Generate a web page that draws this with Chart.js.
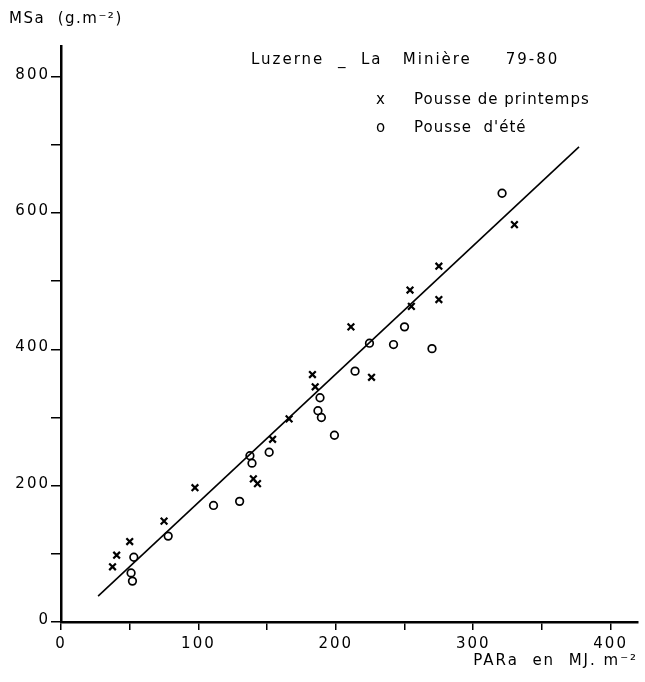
<!DOCTYPE html>
<html lang="fr">
<head>
<meta charset="UTF-8">
<title>Luzerne - La Minière 79-80</title>
<script src="https://cdn.jsdelivr.net/npm/chart.js"></script>
<style>
  html, body { margin: 0; padding: 0; background: #fff; }
  #wrap { width: 645px; height: 682px; }
</style>
</head>
<body>
<div id="wrap"><canvas id="chart" width="645" height="682"></canvas></div>
<script>
// Pousse de printemps (x) : PARa (MJ.m-2) / MSa (g.m-2)
const springPAR = [37.5, 40.5, 50, 75, 97.5, 140, 143, 154, 166, 183, 185, 211, 226, 254, 255, 275, 275, 330];
const springMS  = [81, 98, 118, 148, 197, 210, 203, 268, 298, 363, 345, 433, 359, 487, 463, 522, 473, 583];

// Pousse d'été (o)
const summerPAR = [51, 52, 53, 78, 111, 130, 137.5, 139, 151.5, 188.5, 187, 189.5, 199, 214, 224.5, 242, 250, 270, 321];
const summerMS  = [72, 60, 95, 126, 171, 177, 244, 233, 249, 329, 310, 300, 274, 368, 409, 407, 433, 401, 629];

// droite d'ajustement
const fitPAR = [27, 377];
const fitMS  = [38, 697];

const xTickLabels = [0, 100, 200, 300, 400];
const yTickLabels = [0, 200, 400, 600, 800];

const FONT = '"DejaVu Sans", "Liberation Sans", Arial, sans-serif';

function pts(xs, ys) {
  return xs.map((x, i) => ({ x: x, y: ys[i] }));
}

// letter spacing + free text (axis unit, title, legend)
const textPlugin = {
  id: 'texts',
  beforeLayout(chart) { chart.ctx.letterSpacing = '2px'; },
  beforeDraw(chart) { chart.ctx.letterSpacing = '2px'; },
  afterDraw(chart) {
    const ctx = chart.ctx;
    ctx.save();
    ctx.fillStyle = '#000';
    ctx.font = '15px ' + FONT;
    ctx.textBaseline = 'middle';
    ctx.textAlign = 'left';
    ctx.letterSpacing = '1.5px';
    ctx.fillText('MSa  (g.m⁻²)', 9, 19);
    ctx.letterSpacing = '2px';
    ctx.fillText('Luzerne  _  La   Minière     79-80', 251, 60);
    ctx.letterSpacing = '1px';
    ctx.fillText('x', 376, 100);
    ctx.fillText('Pousse de printemps', 414, 100);
    ctx.fillText('o', 376, 128);
    ctx.fillText('Pousse  d\'été', 414, 128);
    ctx.restore();
  }
};

new Chart(document.getElementById('chart'), {
  type: 'scatter',
  data: {
    datasets: [
      {
        label: 'Pousse de printemps',
        data: pts(springPAR, springMS),
        pointStyle: 'crossRot',
        pointRadius: 4.7,
        borderColor: '#000',
        borderWidth: 2.2
      },
      {
        label: "Pousse d'été",
        data: pts(summerPAR, summerMS),
        pointStyle: 'circle',
        pointRadius: 3.8,
        borderColor: '#000',
        backgroundColor: 'rgba(0,0,0,0)',
        borderWidth: 1.7
      },
      {
        type: 'line',
        label: 'ajustement',
        data: pts(fitPAR, fitMS),
        showLine: true,
        pointRadius: 0,
        borderColor: '#000',
        borderWidth: 1.6
      }
    ]
  },
  options: {
    responsive: false,
    animation: false,
    layout: { padding: { top: 46, right: 5, left: 0, bottom: 0 } },
    plugins: {
      legend: { display: false },
      tooltip: { enabled: false }
    },
    scales: {
      x: {
        type: 'linear',
        min: 0,
        max: 420,
        border: { color: '#000', width: 2.5 },
        grid: { drawOnChartArea: false, drawTicks: true, tickLength: 8, tickColor: '#000', lineWidth: 1.5 },
        ticks: {
          stepSize: 50,
          includeBounds: false,
          autoSkip: false,
          maxRotation: 0,
          padding: 5,
          color: '#000',
          font: { family: FONT, size: 15 },
          callback: v => xTickLabels.includes(v) ? String(v) : ''
        },
        title: {
          display: true,
          align: 'end',
          text: 'PARa  en  MJ. m⁻²',
          color: '#000',
          font: { family: FONT, size: 15 },
          padding: { top: 0, bottom: 12 }
        },
        afterFit(scale) { scale.height = 60; }
      },
      y: {
        type: 'linear',
        min: 0,
        max: 845,
        border: { color: '#000', width: 2.5 },
        grid: { drawOnChartArea: false, drawTicks: true, tickLength: 10, tickColor: '#000', lineWidth: 1.5 },
        ticks: {
          stepSize: 100,
          includeBounds: false,
          autoSkip: false,
          padding: 1,
          labelOffset: -2,
          color: '#000',
          font: { family: FONT, size: 15 },
          callback: v => yTickLabels.includes(v) ? String(v) : ''
        },
        afterFit(scale) { scale.width = 61; }
      }
    }
  },
  plugins: [textPlugin]
});
</script>
</body>
</html>
